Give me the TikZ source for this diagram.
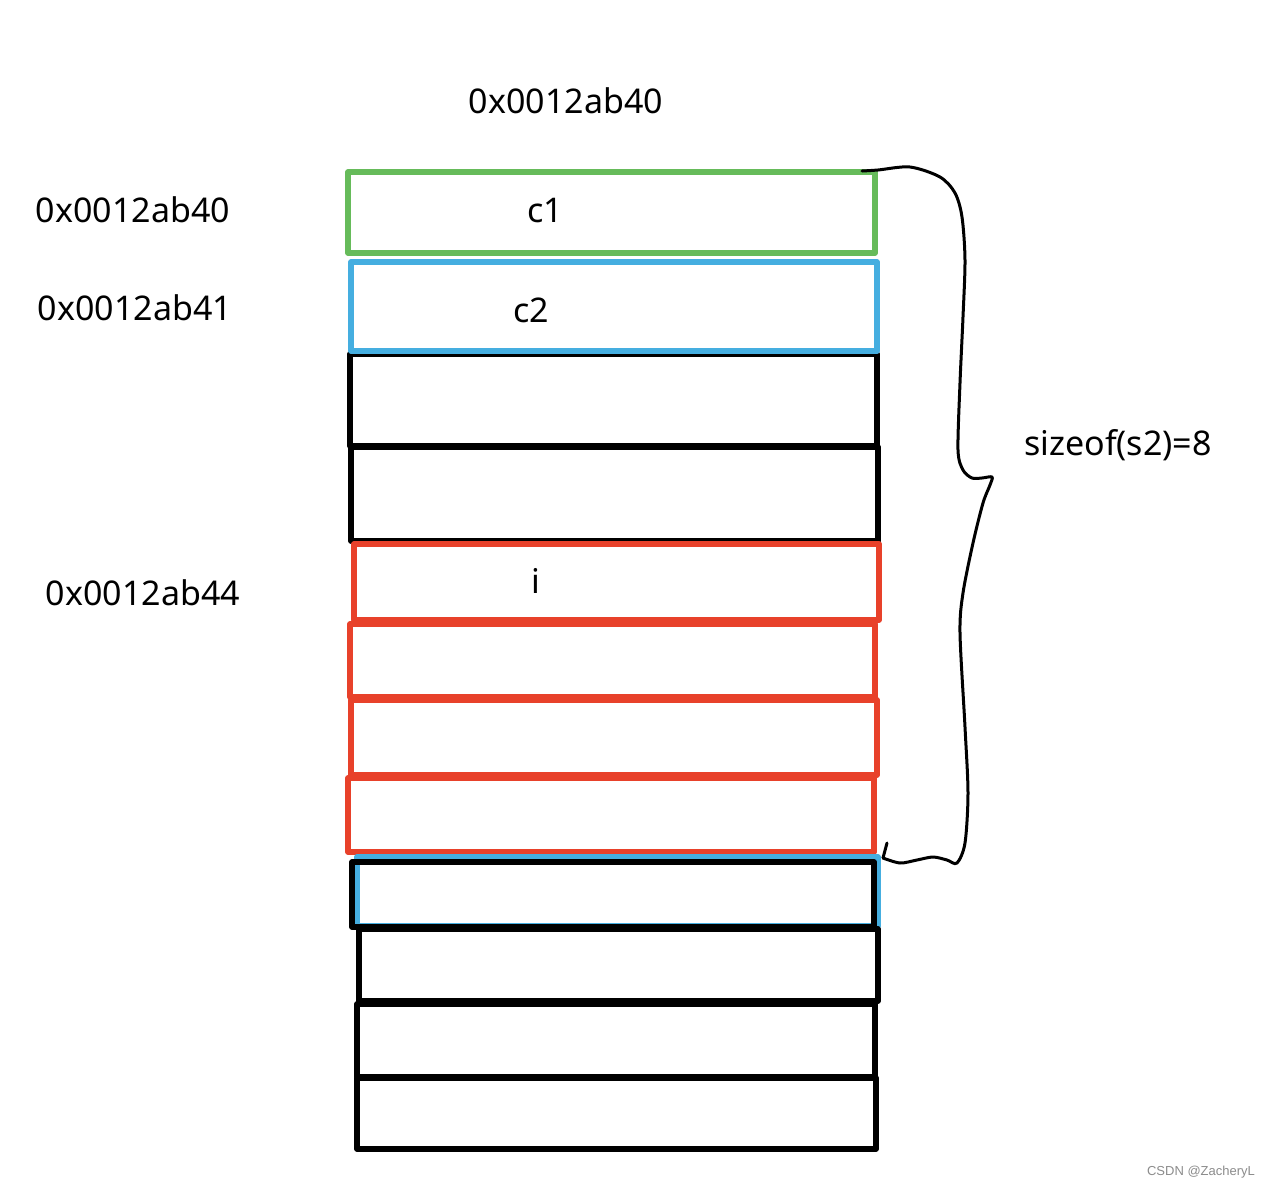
\documentclass[tikz,border=0pt]{standalone}
\usepackage{fontspec}
\setmainfont{Noto Sans}
\newfontfamily\wmfont{Liberation Sans}
\usetikzlibrary{fit}
\definecolor{cgreen}{HTML}{66BB5A}
\definecolor{cblue}{HTML}{45AEE0}
\definecolor{cred}{HTML}{E8412A}
\begin{document}
\begin{tikzpicture}[x=1pt,y=-1pt,
  cell/.style={draw, line width=5.5pt, line join=round, inner sep=0pt, fill=none},
  lbl/.style={font=\fontsize{34}{40}\selectfont, inner sep=0pt, anchor=center},
  bracepath/.style={line width=3pt, line cap=round, line join=round}]
\useasboundingbox (0,0) rectangle (1270,1189);
\fill[white] (0,0) rectangle (1270,1189);
% black cells behind
\node[cell, fit={(350,354)(877,446)}] (b3) {};
\node[cell, fit={(351,447)(878,541)}] (b4) {};
% coloured cells
\node[cell, draw=cgreen, fit={(348,172)(875,253)}] (b1) {};
\node[cell, draw=cblue, fit={(351,262)(877,351)}] (b2) {};
\node[cell, draw=cred, fit={(354,544)(879,620)}] (b5) {};
\node[cell, draw=cred, fit={(350,624)(875,697)}] (b6) {};
\node[cell, draw=cred, fit={(351,700)(877,775)}] (b7) {};
\node[cell, draw=cred, fit={(348,778)(874,852)}] (b8) {};
% blue under black
\node[cell, draw=cblue, fit={(357,857)(878,926)}] (b9b) {};
\node[cell, fit={(352,862)(874,927)}] (b9) {};
\node[cell, fit={(359,929)(878,1001)}] (b10) {};
\node[cell, fit={(357,1004)(875,1077)}] (b11) {};
\node[cell, fit={(357,1078)(876,1149)}] (b12) {};
% texts
\node[lbl] (top) at (566,101) {0x0012ab40};
\node[lbl] (a40) at (133,210) {0x0012ab40};
\node[lbl] (a41) at (135,308) {0x0012ab41};
\node[lbl] (a44) at (143,593) {0x0012ab44};
\node[lbl] (c1) at (545,211) {c1};
\node[lbl] (c2) at (531,310) {c2};
\node[lbl] (vi) at (536,581) {i};
\node[lbl] (sz) at (1118,445) {sizeof(s2)=8};
\node[font=\wmfont\fontsize{13}{15}\selectfont, text=black!45, inner sep=0pt] (wm) at (1201,1172) {CSDN @ZacheryL};
% hand-drawn brace
\draw[bracepath] plot[smooth, tension=0.5] coordinates {
 (862,171) (878,170) (910,167) (940,177) (955,193) (962,217) (965,260)
 (963,317) (960,383) (958,450) (963,470) (972,478) (982,478) (992,477)
 (990,485) (983,503) (973,543) (963,593) (960,633) (965,727) (968,793)
 (965,843) (957,863) (947,860) (933,857) (917,860) (900,863) (883,858)};
\draw[bracepath] (883,858) -- (887,843);
\end{tikzpicture}
\end{document}
